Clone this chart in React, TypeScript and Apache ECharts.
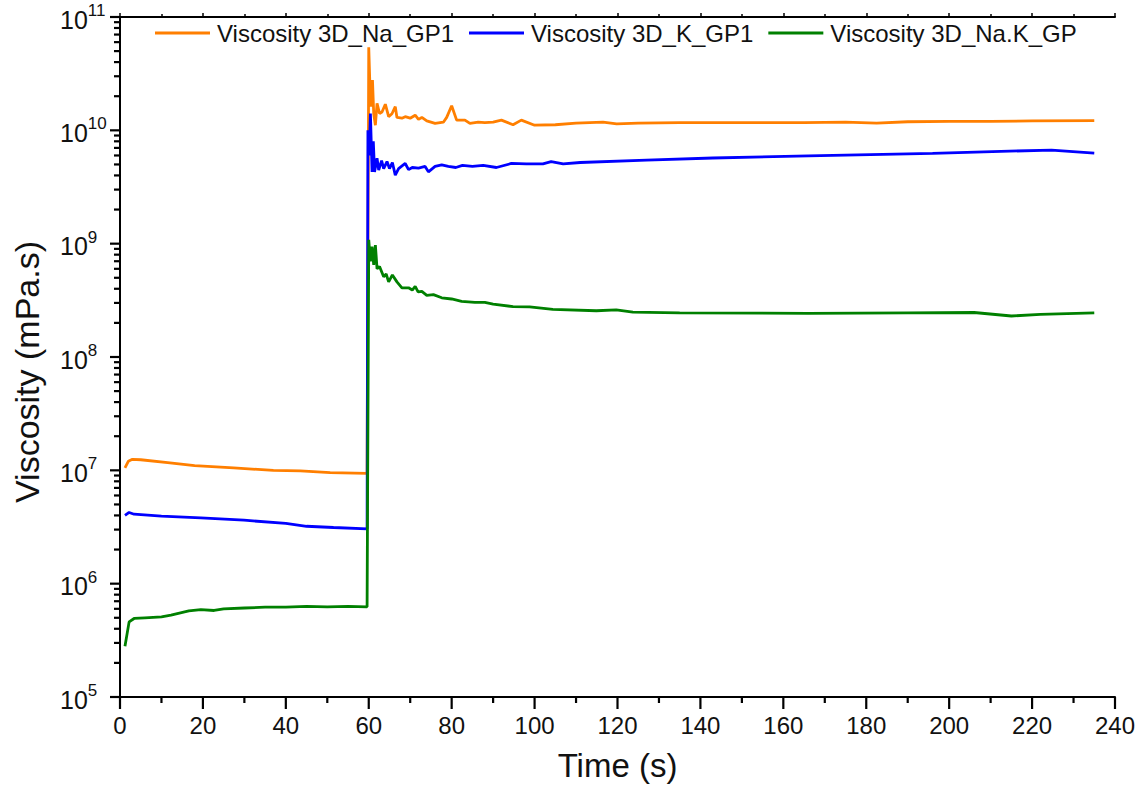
import React, { useEffect, useRef } from "react";
import * as echarts from "echarts";

const seriesNames = ["Viscosity 3D_Na_GP1", "Viscosity 3D_K_GP1", "Viscosity 3D_Na.K_GP"];
const seriesColors = ["#FF7F00", "#0000FF", "#008000"];

const naTime = [1.2, 2, 3, 5, 11.5, 18, 27.4, 37, 43.5, 50.7, 59.6, 60, 60.3, 60.6, 60.9, 61.2, 61.6, 62, 62.6, 63.2, 64, 64.8, 65.6, 66.4, 66.8, 68, 68.8, 70, 71.2, 72, 72.8, 74, 76, 78, 78.8, 80, 81.2, 83.2, 84.4, 86.4, 88, 90, 92, 94.8, 96.8, 100, 105, 110, 116.5, 119.8, 125, 135, 150, 165, 175, 182.5, 190, 200, 210, 220, 235];
const naVisc = [1.05e7, 1.2e7, 1.25e7, 1.24e7, 1.17e7, 1.1e7, 1.05e7, 1.0e7, 9.9e6, 9.55e6, 9.4e6, 5.4e10, 2.35e10, 1.62e10, 2.78e10, 1.4e10, 1.11e10, 1.73e10, 1.41e10, 1.45e10, 1.7e10, 1.32e10, 1.4e10, 1.62e10, 1.3e10, 1.28e10, 1.32e10, 1.28e10, 1.36e10, 1.25e10, 1.3e10, 1.21e10, 1.15e10, 1.18e10, 1.3e10, 1.65e10, 1.23e10, 1.23e10, 1.15e10, 1.18e10, 1.17e10, 1.18e10, 1.23e10, 1.12e10, 1.23e10, 1.11e10, 1.12e10, 1.16e10, 1.18e10, 1.14e10, 1.16e10, 1.17e10, 1.17e10, 1.17e10, 1.18e10, 1.16e10, 1.19e10, 1.2e10, 1.2e10, 1.21e10, 1.22e10];

const kTime = [1.2, 2.2, 3.4, 10, 19.5, 29.9, 40, 45, 51.5, 59.6, 59.8, 60.1, 60.4, 60.8, 61.1, 61.4, 62, 62.4, 63.1, 63.6, 64.4, 65, 65.7, 66.4, 67.2, 68.8, 69.6, 70.5, 72, 73.6, 74.4, 76, 77.6, 79.2, 81, 82.6, 85, 87.6, 90.8, 94.4, 98, 102, 104, 106.9, 111, 127, 143, 166, 196, 224.7, 235];
const kVisc = [4.0e6, 4.25e6, 4.1e6, 3.95e6, 3.81e6, 3.63e6, 3.4e6, 3.21e6, 3.13e6, 3.05e6, 1.0e10, 6.0e9, 1.41e10, 4.3e9, 8.0e9, 4.3e9, 5.67e9, 4.47e9, 5.4e9, 4.6e9, 5.3e9, 4.6e9, 5.2e9, 4.03e9, 4.6e9, 5.1e9, 4.5e9, 4.7e9, 4.65e9, 4.8e9, 4.3e9, 4.8e9, 4.95e9, 4.8e9, 4.7e9, 4.9e9, 4.8e9, 4.9e9, 4.7e9, 5.1e9, 5.05e9, 5.05e9, 5.3e9, 5.05e9, 5.2e9, 5.45e9, 5.7e9, 5.95e9, 6.27e9, 6.7e9, 6.3e9];

const naKTime = [1.2, 2.2, 3.4, 6, 10, 12.3, 16.6, 19.5, 22.7, 25, 30, 35, 40, 45, 50, 55, 59.6, 60, 60.4, 60.8, 61.2, 61.6, 62, 62.6, 63.6, 64.2, 64.8, 65.7, 66.8, 68, 69.6, 70.5, 71.2, 71.9, 72.8, 74, 75.6, 77.6, 80, 82.4, 85.6, 88, 90, 94.8, 98.8, 104.4, 114.9, 119.7, 123.7, 135, 166, 190, 206, 215, 222, 235];
const naKVisc = [2.8e5, 4.6e5, 4.93e5, 5.0e5, 5.1e5, 5.27e5, 5.75e5, 5.9e5, 5.8e5, 6.0e5, 6.1e5, 6.2e5, 6.2e5, 6.3e5, 6.25e5, 6.3e5, 6.25e5, 1.08e9, 7.0e8, 9.4e8, 6.5e8, 9.7e8, 6.0e8, 6.3e8, 5.1e8, 5.4e8, 4.6e8, 5.3e8, 4.6e8, 4.08e8, 4.08e8, 3.9e8, 4.2e8, 3.75e8, 3.8e8, 3.5e8, 3.55e8, 3.33e8, 3.25e8, 3.1e8, 3.03e8, 3.03e8, 2.93e8, 2.78e8, 2.77e8, 2.63e8, 2.56e8, 2.6e8, 2.49e8, 2.45e8, 2.43e8, 2.45e8, 2.47e8, 2.3e8, 2.38e8, 2.45e8];

const xTickMin = 0;
const xTickMax = 240;
const xTickStep = 20;
const xMinorStep = 10;
const yMin = 1e5;
const yMax = 1e11;

const xTickValues: number[] = [];
for (let v = xTickMin; v <= xTickMax; v += xMinorStep) xTickValues.push(v);
const yMajorTicks: number[] = [];
const yMinorTicks: number[] = [];
for (let e = 5; e <= 11; e++) {
  yMajorTicks.push(Math.pow(10, e));
  if (e < 11) for (let m = 2; m <= 9; m++) yMinorTicks.push(m * Math.pow(10, e));
}

const FONT = "'Liberation Sans', Arial, sans-serif";

function pairs(t: number[], v: number[]) {
  return t.map((x, i) => [x, v[i]]);
}

export default function App() {
  const ref = useRef<HTMLDivElement>(null);
  useEffect(() => {
    if (!ref.current) return;
    const chart = echarts.init(ref.current, undefined, { renderer: "svg" });
    const lineSeries = [
      [naTime, naVisc],
      [kTime, kVisc],
      [naKTime, naKVisc],
    ].map(([t, v], i) => ({
      name: seriesNames[i],
      type: "line",
      data: pairs(t as number[], v as number[]),
      showSymbol: false,
      symbol: "none",
      lineStyle: { color: seriesColors[i], width: 2.8 },
      itemStyle: { color: seriesColors[i] },
      z: 2 + i,
    }));
    const xTickData = xTickValues.map((v) => [v, yMin, v % xTickStep === 0 ? 12 : 6]);
    const yTickData = [
      ...yMajorTicks.map((v) => [xTickMin, v, 10]),
      ...yMinorTicks.map((v) => [xTickMin, v, 6]),
    ];
    chart.setOption({
      animation: false,
      backgroundColor: "#fff",
      textStyle: { fontFamily: FONT },
      legend: {
        data: seriesNames,
        top: 16,
        left: 150,
        icon: "rect",
        itemWidth: 55,
        itemHeight: 3,
        itemGap: 15,
        textStyle: { fontSize: 24, color: "#111", fontFamily: FONT, padding: [0, 0, 0, 2] },
      },
      grid: { left: 120, right: 33, top: 17, bottom: 92, containLabel: false },
      xAxis: [
        {
          type: "value",
          min: xTickMin,
          max: xTickMax,
          interval: xTickStep,
          name: "Time (s)",
          nameLocation: "middle",
          nameGap: 52,
          nameTextStyle: { fontSize: 33, color: "#111", fontFamily: FONT },
          axisLine: { show: true, onZero: false, lineStyle: { color: "#000", width: 2 } },
          axisTick: { show: false },
          minorTick: { show: false },
          axisLabel: { fontSize: 24, color: "#111", margin: 16, fontFamily: FONT },
          splitLine: { show: false },
        },
        {
          type: "value",
          position: "top",
          min: xTickMin,
          max: xTickMax,
          interval: xTickStep,
          axisLine: { show: true, lineStyle: { color: "#000", width: 2 } },
          axisTick: { show: true, length: 4, lineStyle: { color: "#000", width: 1.5 } },
          minorTick: { show: true, splitNumber: 2, length: 3, lineStyle: { color: "#000", width: 1.5 } },
          axisLabel: { show: false },
          splitLine: { show: false },
        },
      ],
      yAxis: [
        {
          type: "log",
          logBase: 10,
          min: yMin,
          max: yMax,
          splitNumber: 6,
          name: "Viscosity (mPa.s)",
          nameLocation: "middle",
          nameGap: 76,
          nameTextStyle: { fontSize: 34, color: "#111", fontFamily: FONT, padding: [0, 30, 0, 0] },
          axisLine: { show: true, onZero: false, lineStyle: { color: "#000", width: 2 } },
          axisTick: { show: false },
          axisLabel: {
            margin: 60,
            align: "left",
            color: "#111",
            fontFamily: FONT,
            formatter: (val: number) => "{b|10}{s|" + Math.round(Math.log10(val)) + "}",
            rich: {
              b: { fontSize: 25, color: "#111", fontFamily: FONT, lineHeight: 30, verticalAlign: "bottom" },
              s: { fontSize: 17, color: "#111", fontFamily: FONT, lineHeight: 30, verticalAlign: "top" },
            },
          },
          splitLine: { show: false },
        },
        {
          type: "log",
          logBase: 10,
          min: yMin,
          max: yMax,
          position: "right",
          axisLine: { show: true, lineStyle: { color: "#000", width: 2 } },
          axisTick: { show: false },
          axisLabel: { show: false },
          splitLine: { show: false },
        },
      ],
      series: [
        ...lineSeries,
        {
          type: "custom",
          name: "xTicks",
          silent: true,
          clip: false,
          data: xTickData,
          encode: { x: 0, y: 1 },
          renderItem: (params: any, api: any) => {
            const p = api.coord([api.value(0), api.value(1)]);
            const len = api.value(2);
            return {
              type: "line",
              shape: { x1: p[0], y1: p[1], x2: p[0], y2: p[1] + len },
              style: { stroke: "#000", lineWidth: 2.2 },
            };
          },
          z: 10,
        },
        {
          type: "custom",
          name: "yTicks",
          silent: true,
          clip: false,
          data: yTickData,
          encode: { x: 0, y: 1 },
          renderItem: (params: any, api: any) => {
            const p = api.coord([api.value(0), api.value(1)]);
            const len = api.value(2);
            return {
              type: "line",
              shape: { x1: p[0] - len, y1: p[1], x2: p[0], y2: p[1] },
              style: { stroke: "#000", lineWidth: 2.2 },
            };
          },
          z: 10,
        },
      ],
    });
    return () => chart.dispose();
  }, []);
  return (
    <div
      ref={ref}
      style={{ position: "absolute", left: 0, top: 0, width: 1148, height: 789 }}
    />
  );
}
